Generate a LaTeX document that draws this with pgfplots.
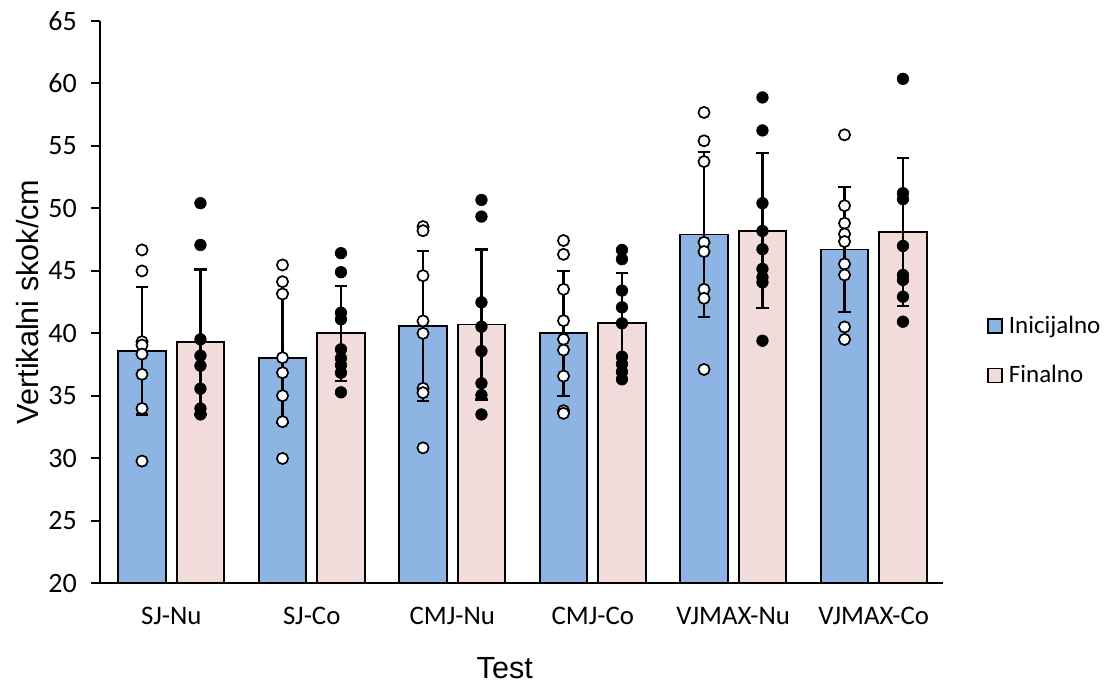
\documentclass[border=0pt]{standalone}
\usepackage{pgfplots}
\pgfplotsset{compat=1.18}
\usepackage{fontspec}
\setmainfont{Carlito}
\newfontfamily\arialfont{Liberation Sans}
\definecolor{barblue}{RGB}{142,180,227}
\definecolor{barpink}{RGB}{242,220,219}

\begin{document}
\begin{tikzpicture}
\begin{axis}[
  width=421.65pt, height=281.25pt, scale only axis,
  xmin=-0.507, xmax=5.495, ymin=20, ymax=65,
  axis lines*=left,
  axis line style={line width=0.9pt, black},
  ytick={20,25,...,65},
  xtick={0,...,5},
  xticklabels={SJ-Nu,SJ-Co,CMJ-Nu,CMJ-Co,VJMAX-Nu,VJMAX-Co},
  x tick style={draw=none},
  y tick style={line width=0.9pt, black},
  tick align=outside, major tick length=4.6pt,
  /pgf/number format/assume math mode=true,
  yticklabel style={font=\fontsize{14}{16}\selectfont, xshift=-3.5pt},
  xticklabel style={font=\fontsize{13.4}{16}\selectfont, anchor=base, yshift=-16pt},
  ylabel={Vertikalni skok/cm},
  ylabel style={at={(rel axis cs:-0.0854,0.5)}, anchor=center, font=\arialfont\fontsize{15.3}{17}\selectfont},
  xlabel={Test},
  xlabel style={at={(rel axis cs:0.48,-0.1508)}, anchor=center, font=\arialfont\fontsize{15.3}{17}\selectfont},
  legend style={at={(rel axis cs:1.0515,0.413)}, anchor=west, draw=none, fill=none,
    font=\fontsize{12.5}{15}\selectfont, row sep=8.5pt, inner sep=0pt, nodes={inner sep=3pt}},
  legend cell align=left,
  error bars/error bar style={line width=1.15pt, black, solid},
]
\coordinate (BL) at (rel axis cs:0,0);
\coordinate (TR) at (rel axis cs:1,1);

% Inicijalno bars
\addplot[ybar, bar width=0.338, bar shift=0pt, fill=barblue, draw=black, line width=0.9pt,
  legend image code/.code={\draw[fill=barblue,draw=black,line width=0.9pt] (0pt,-3.5pt) rectangle (7pt,3.5pt);},
  error bars/.cd, y dir=both, y explicit,
  error bar style={line width=1.15pt, black},
  error mark options={rotate=90, mark size=3.2pt, line width=1.15pt, black}]
  table[x=x, y=y, y error=e] {
x y e
-0.208 38.6 5.1
0.792 38.0 5.2
1.792 40.55 6.0
2.792 40.0 5.0
3.792 47.9 6.6
4.792 46.7 5.0
};
\addlegendentry{Inicijalno}

% Finalno bars
\addplot[ybar, bar width=0.338, bar shift=0pt, fill=barpink, draw=black, line width=0.9pt,
  legend image code/.code={\draw[fill=barpink,draw=black,line width=0.9pt] (0pt,-3.5pt) rectangle (7pt,3.5pt);},
  error bars/.cd, y dir=both, y explicit,
  error bar style={line width=1.15pt, black},
  error mark options={rotate=90, mark size=3.2pt, line width=1.15pt, black}]
  table[x=x, y=y, y error=e] {
x y e
0.208 39.3 5.8
1.208 40.0 3.8
2.208 40.7 6.0
3.208 40.8 4.0
4.208 48.2 6.2
5.208 48.1 5.9
};
\addlegendentry{Finalno}

% Inicijalno individual values
\addplot[only marks, mark=*, mark size=2.8pt, mark options={fill=white, draw=black, line width=0.85pt}, forget plot]
  table {
x y
-0.208 46.66
-0.208 44.98
-0.208 39.32
-0.208 39.05
-0.208 38.33
-0.208 36.71
-0.208 33.98
-0.208 29.77
0.792 45.46
0.792 44.12
0.792 43.14
0.792 38.04
0.792 36.84
0.792 35.00
0.792 32.92
0.792 29.98
1.792 48.53
1.792 48.20
1.792 44.60
1.792 40.98
1.792 39.99
1.792 35.59
1.792 35.24
1.792 30.83
2.792 47.41
2.792 46.31
2.792 43.51
2.792 41.00
2.792 39.51
2.792 38.65
2.792 36.57
2.792 33.80
2.792 33.59
3.792 57.66
3.792 55.39
3.792 53.73
3.792 47.27
3.792 46.53
3.792 43.51
3.792 42.79
3.792 37.10
4.792 55.87
4.792 50.20
4.792 48.80
4.792 47.94
4.792 47.33
4.792 45.54
4.792 44.66
4.792 40.50
4.792 39.50
};

% Finalno individual values
\addplot[only marks, mark=*, mark size=2.9pt, mark options={fill=black, draw=black, line width=0.3pt}, forget plot]
  table {
x y
0.208 50.40
0.208 47.06
0.208 39.51
0.208 38.20
0.208 37.40
0.208 35.56
0.208 33.98
0.208 33.50
1.208 46.40
1.208 44.88
1.208 41.64
1.208 41.11
1.208 38.71
1.208 37.99
1.208 37.45
1.208 36.84
1.208 35.27
2.208 50.66
2.208 49.33
2.208 42.47
2.208 40.52
2.208 38.57
2.208 35.99
2.208 35.05
2.208 33.50
3.208 46.66
3.208 45.92
3.208 43.41
3.208 42.07
3.208 40.79
3.208 38.12
3.208 37.53
3.208 36.92
3.208 36.31
4.208 58.86
4.208 56.22
4.208 50.40
4.208 48.18
4.208 46.72
4.208 45.14
4.208 44.47
4.208 44.07
4.208 39.40
5.208 60.35
5.208 51.20
5.208 50.72
5.208 46.98
5.208 44.66
5.208 44.26
5.208 42.92
5.208 40.92
};
\end{axis}
\pgfresetboundingbox
\path ([xshift=-50pt,yshift=-51.4pt]BL) rectangle ([xshift=82.35pt,yshift=10.35pt]TR);
\end{tikzpicture}
\end{document}
